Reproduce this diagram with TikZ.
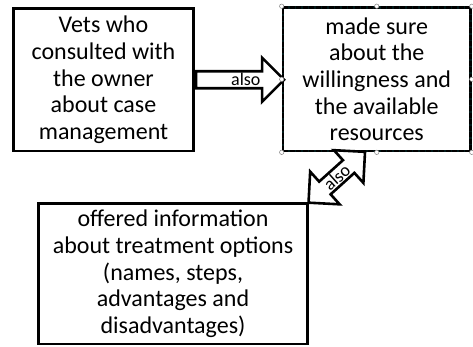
\documentclass[tikz,border=0pt]{standalone}
\usepackage{fontspec}
\setmainfont{Carlito}
\usetikzlibrary{shapes.arrows,calc,positioning}

\begin{document}
\begin{tikzpicture}[x=1pt,y=-1pt,
  box/.style={draw,line width=2.6pt,fill=white,align=center,inner sep=0pt,font=\fontsize{24}{26.7}\selectfont},
  selbox/.style={box,draw=black!80!teal,postaction={draw=black,line width=2.6pt,dash pattern=on 5pt off 1.5pt}},
  fatarrow/.style={draw,line width=2.6pt,fill=white,inner sep=0pt,minimum width=44pt,single arrow head extend=12pt,double arrow head extend=12pt,font=\fontsize{18}{20}\selectfont},
  handle/.style={draw=gray,fill=white,line width=0.5pt}]
\useasboundingbox (0,0) rectangle (473,346);
\node[box,minimum width=180pt,minimum height=142.5pt] (vets) at (103.5,79.75) {Vets who\\consulted with\\the owner\\about case\\management};
\node[selbox,minimum width=187.5pt,minimum height=143.5pt] (sure) at (376.75,79.25) {made sure\\about the\\willingness and\\the available\\resources};
\node[box,minimum width=269pt,minimum height=140.5pt] (offer) at (173,273.75) {offered information\\about treatment options\\(names, steps,\\advantages and\\disadvantages)};
\node[fatarrow,single arrow,minimum height=88pt,anchor=tail] (also1) at (vets.east) {\hspace*{20pt}also};
\coordinate (toptip) at ($(sure.south)+(-12,0)$);
\node[fatarrow,double arrow,minimum height=76pt,rotate=42] (also2) at ($(offer.north east)!.5!(toptip)$) {also};
\foreach \a in {north west,north,north east,east,south east,south,south west,west}
  \draw[handle] (sure.\a) circle (2.2);
\end{tikzpicture}
\end{document}
